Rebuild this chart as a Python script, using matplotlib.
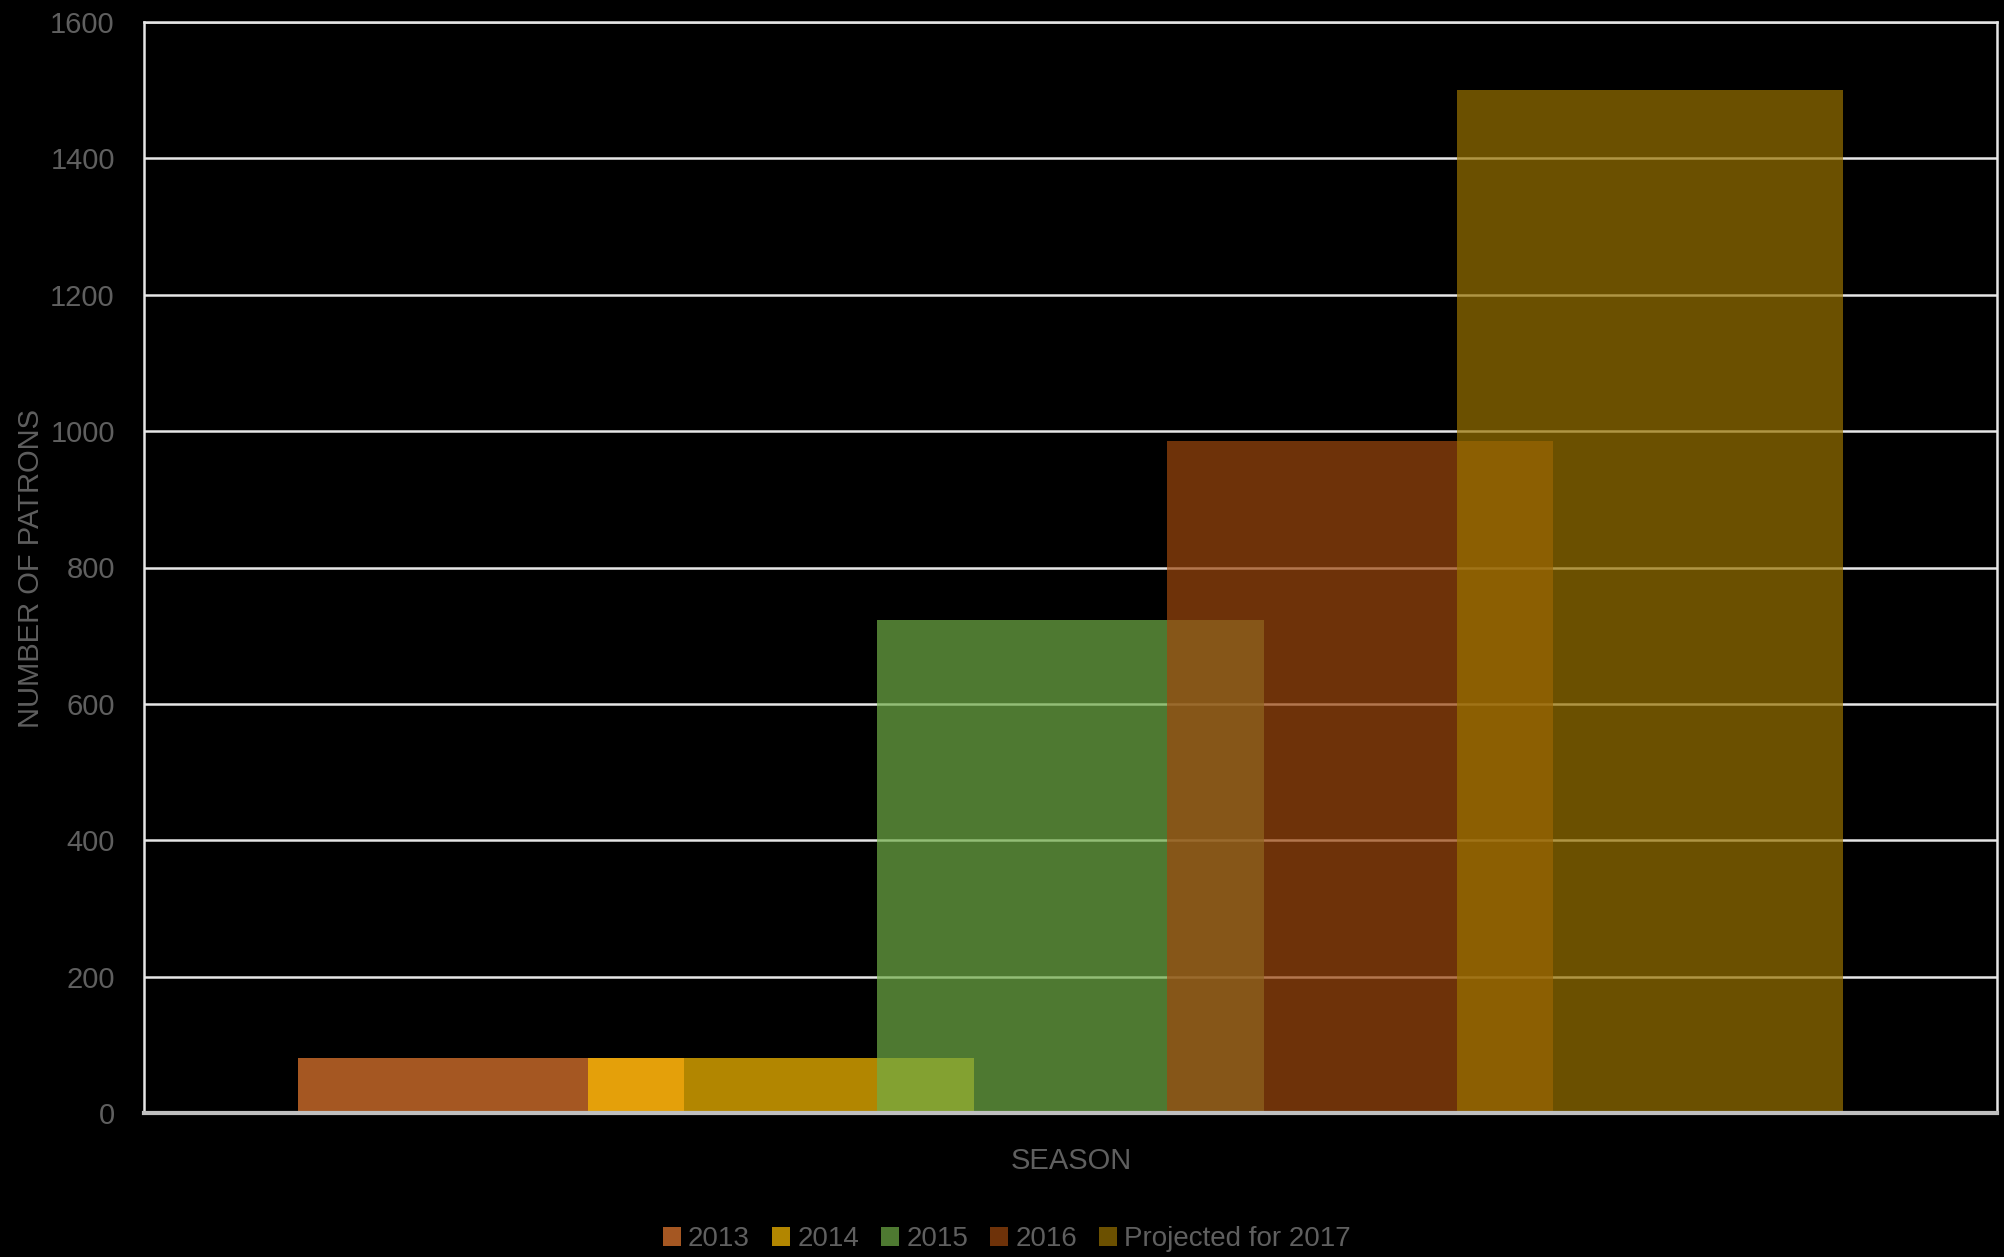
import matplotlib.pyplot as plt

# one category, five overlapping series
seasons = ['2013', '2014', '2015', '2016', 'Projected for 2017']
patrons = [81, 81, 723, 986, 1500]
colors = ['#ED7D31', '#FFC000', '#70AD47', '#9E480E', '#997300']
yticks = [0, 200, 400, 600, 800, 1000, 1200, 1400, 1600]

plt.rcParams['font.family'] = ['Liberation Sans', 'DejaVu Sans']

txt = '#5f5f5f'
W, H = 2004, 1257

fig = plt.figure(figsize=(W / 100, H / 100), dpi=100, facecolor='black')
ax = fig.add_axes([144 / W, 1 - 1113 / H, (1997 - 144) / W, (1113 - 22) / H])
ax.set_facecolor('black')

# bars are width 1, stepped by 0.75 so they overlap by a quarter
step = 0.75
for i, (name, val, col) in enumerate(zip(seasons, patrons, colors)):
    xpos = (i - 2) * step
    ax.bar(xpos, val, width=1.0, color=col, alpha=0.7, label=name, zorder=2, linewidth=0)

ax.set_xlim(-2.40, 2.40)
ax.set_ylim(0, 1600)
ax.set_yticks(yticks)
ax.set_xticks([])
ax.yaxis.grid(True, color='#e6e6e6', linewidth=1.8, zorder=1)
ax.set_axisbelow(True)
ax.tick_params(axis='y', length=0, labelsize=21, labelcolor=txt, pad=21)

for side in ['left', 'top', 'right']:
    ax.spines[side].set_color('#e6e6e6')
    ax.spines[side].set_linewidth(1.8)
ax.spines['bottom'].set_color('#bfbfbf')
ax.spines['bottom'].set_linewidth(3)

# axis titles placed in figure pixels
fig.text(31 / W, 1 - 568 / H, 'NUMBER OF PATRONS', rotation=90, ha='center', va='center',
         fontsize=21, color=txt)
fig.text(1071 / W, 1 - 1161 / H, 'SEASON', ha='center', va='center', fontsize=21, color=txt)

leg = fig.legend(loc='center', bbox_to_anchor=(1007 / W, 1 - 1239 / H), ncol=5,
                 frameon=False, fontsize=20, handlelength=0.65, handleheight=0.65,
                 handletextpad=0.25, columnspacing=0.8, borderaxespad=0)
for t in leg.get_texts():
    t.set_color(txt)

fig.savefig('out.png', dpi=100, facecolor='black')
